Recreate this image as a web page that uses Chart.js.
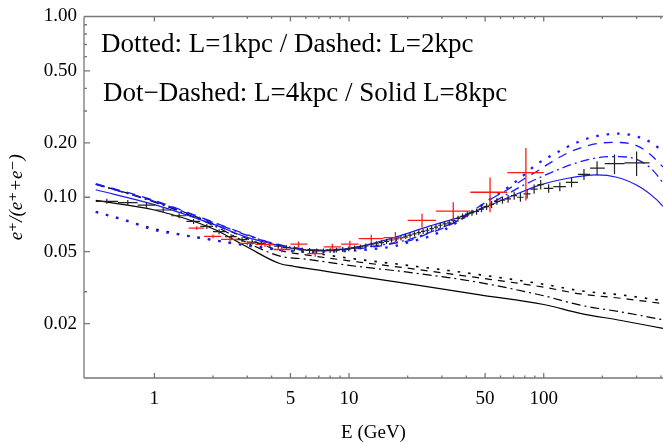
<!DOCTYPE html>
<html><head><meta charset="utf-8">
<script src="https://cdn.jsdelivr.net/npm/chart.js@4/dist/chart.umd.min.js"></script>
<style>html,body{margin:0;padding:0;background:#fff;}#wrap{width:663px;height:443px;position:relative;}</style>
</head><body><div id="wrap"><canvas id="c" width="663" height="443"></canvas></div>
<script>
// ---------- tick labels ----------
const xTickLabels = [1, 5, 10, 50, 100];
const xMinorTicks = [2, 3, 4, 6, 7, 8, 9, 20, 30, 40, 60, 70, 80, 90, 200, 300, 400];
const yTickLabels = [1.0, 0.5, 0.2, 0.1, 0.05, 0.02];
const yMinorTicks = [0.9, 0.8, 0.7, 0.6, 0.4, 0.3, 0.03];
const annotationLines = ["Dotted: L=1kpc / Dashed: L=2kpc", "Dot\u2212Dashed: L=4kpc / Solid L=8kpc"];

// ---------- model curves (E in GeV, positron fraction) ----------
const blueDottedE = [0.5, 0.7, 1, 1.5, 2, 3, 5, 7, 10, 14, 17, 21, 25, 30, 36, 43, 52, 60, 76, 92, 117, 148, 187, 246, 312, 366, 410];
const blueDottedF = [0.083, 0.075, 0.066, 0.061, 0.058, 0.054, 0.0505, 0.0500, 0.0505, 0.052, 0.0535, 0.057, 0.060, 0.065, 0.073, 0.083, 0.096, 0.106, 0.128, 0.152, 0.177, 0.201, 0.218, 0.225, 0.214, 0.197, 0.178];

const blueDashedE = [0.5, 1, 2, 3, 4, 5, 7, 10, 14, 17, 21, 25, 30, 36, 43, 53, 65, 78, 95, 110, 136, 187, 237, 300, 352, 410];
const blueDashedF = [0.119, 0.096, 0.073, 0.062, 0.056, 0.053, 0.051, 0.0515, 0.0535, 0.0555, 0.058, 0.0625, 0.067, 0.074, 0.084, 0.097, 0.110, 0.125, 0.142, 0.157, 0.178, 0.198, 0.201, 0.193, 0.173, 0.147];

const blueDotDashE = [0.5, 1, 2, 3, 4, 5, 7, 10, 14, 17, 21, 25, 30, 36, 43, 53, 65, 78, 96, 120, 142, 194, 246, 312, 366, 410];
const blueDotDashF = [0.118, 0.095, 0.0725, 0.0615, 0.0558, 0.053, 0.051, 0.052, 0.054, 0.056, 0.059, 0.063, 0.068, 0.074, 0.082, 0.092, 0.104, 0.116, 0.129, 0.143, 0.153, 0.166, 0.168, 0.159, 0.140, 0.120];

const blueSolidE = [0.5, 1, 2, 3, 4, 5, 6.3, 8, 11.4, 17, 25, 37, 43.5, 65, 96, 131, 187, 237, 312, 380, 410];
const blueSolidF = [0.110, 0.091, 0.071, 0.060, 0.0553, 0.0525, 0.0509, 0.0508, 0.0535, 0.0598, 0.0684, 0.0776, 0.0827, 0.099, 0.117, 0.127, 0.133, 0.129, 0.114, 0.097, 0.089];

const blackDottedE = [0.5, 1, 2, 3, 4.5, 6, 10, 20, 45, 100, 154, 250, 410];
const blackDottedF = [0.083, 0.067, 0.058, 0.0545, 0.051, 0.0497, 0.046, 0.042, 0.0375, 0.0330, 0.0304, 0.0288, 0.0268];

const blackDashedE = [0.5, 1, 2, 3, 4.5, 6, 10, 20, 45, 100, 154, 250, 410];
const blackDashedF = [0.118, 0.095, 0.0715, 0.059, 0.0505, 0.048, 0.0445, 0.0405, 0.036, 0.0318, 0.0292, 0.0276, 0.0258];

const blackDotDashE = [0.5, 1, 2, 3, 4.5, 6, 10, 20, 45, 100, 154, 250, 410];
const blackDotDashF = [0.118, 0.094, 0.070, 0.056, 0.047, 0.0455, 0.042, 0.0385, 0.034, 0.0285, 0.0253, 0.0232, 0.0210];

const blackSolidE = [0.5, 1, 2, 3, 4.4, 5.2, 7, 10, 20, 47, 100, 154, 250, 410];
const blackSolidF = [0.096, 0.085, 0.067, 0.053, 0.043, 0.0415, 0.0395, 0.0372, 0.0333, 0.0288, 0.0255, 0.0228, 0.0208, 0.0188];

// ---------- black data (AMS-02 like) ----------
const amsE  = [0.57,0.73,0.91,1.11,1.34,1.59,1.86,2.15,2.48,2.82,3.18,3.54,3.92,4.33,4.77,5.24,5.74,6.27,6.82,7.39,8.0,8.62,9.28,9.97,10.68,11.42,12.19,13.0,13.83,14.69,15.59,16.52,17.49,18.48,19.51,20.58,21.69,22.83,24.02,25.26,26.57,27.96,29.44,31.0,32.7,34.4,36.3,38.3,40.5,42.8,45.2,47.9,50.9,54.0,57.5,61.4,65.6,70.5,75.9,82.2,89.3,96.5,106,121,139,161,188,231,300];
const amsLo = [0.50,0.65,0.82,1.01,1.22,1.46,1.72,2.00,2.31,2.65,3.00,3.36,3.73,4.12,4.54,5.00,5.49,6.00,6.54,7.10,7.69,8.30,8.95,9.62,10.32,11.04,11.80,12.59,13.41,14.25,15.13,16.05,17.00,17.98,18.99,20.04,21.13,22.25,23.42,24.62,25.90,27.25,28.68,30.21,31.82,33.52,35.36,37.29,39.37,41.57,43.96,46.55,49.36,52.37,55.68,59.35,63.38,67.93,73.00,78.80,85.51,93.0,100,112,130,150,173,206,260];
const amsHi = [0.65,0.82,1.01,1.22,1.46,1.72,2.00,2.31,2.65,3.00,3.36,3.73,4.12,4.54,5.00,5.49,6.00,6.54,7.10,7.69,8.30,8.95,9.62,10.32,11.04,11.80,12.59,13.41,14.25,15.13,16.05,17.00,17.98,18.99,20.04,21.13,22.25,23.42,24.62,25.90,27.25,28.68,30.21,31.82,33.52,35.36,37.29,39.37,41.57,43.96,46.55,49.36,52.37,55.68,59.35,63.38,67.93,73.00,78.80,85.51,93.0,100,112,130,150,173,206,260,350];
const amsF  = [0.0950,0.0935,0.0905,0.0850,0.0790,0.0735,0.0690,0.0645,0.0605,0.0583,0.0565,0.0556,0.0547,0.0536,0.0527,0.0519,0.0512,0.0508,0.0505,0.0505,0.0507,0.0510,0.0514,0.0519,0.0524,0.0531,0.0538,0.0546,0.0553,0.0561,0.0570,0.0580,0.0589,0.0598,0.0609,0.0617,0.0627,0.0637,0.0647,0.0657,0.0671,0.0684,0.0700,0.0712,0.0722,0.0742,0.0763,0.0783,0.0806,0.0822,0.0834,0.0860,0.0888,0.0912,0.0950,0.0965,0.0980,0.1020,0.1000,0.1044,0.1110,0.1175,0.1120,0.1145,0.1210,0.1340,0.1450,0.1535,0.1550];
const amsErr = [0.0030,0.0030,0.0029,0.0027,0.0025,0.0023,0.0022,0.0020,0.0019,0.0018,0.0018,0.0017,0.0017,0.0017,0.0016,0.0016,0.0016,0.0016,0.0016,0.0016,0.0016,0.0016,0.0016,0.0016,0.0017,0.0017,0.0017,0.0017,0.0018,0.0018,0.0018,0.0019,0.0019,0.0019,0.0020,0.0020,0.0020,0.0021,0.0021,0.0022,0.0022,0.0023,0.0024,0.0025,0.0026,0.0027,0.0028,0.0030,0.0031,0.0032,0.0033,0.0035,0.0037,0.0040,0.0042,0.0045,0.0048,0.0052,0.0056,0.0060,0.0065,0.0070,0.0060,0.0065,0.0075,0.0095,0.0130,0.0190,0.0240];

// ---------- red data (PAMELA like) ----------
const pamE  = [1.65,2.0,2.45,3.0,3.7,4.5,5.5,6.7,8.2,10.1,13.0,17.3,23.7,34.3,53.0,81.0];
const pamLo = [1.5,1.8,2.2,2.7,3.3,4.1,5.0,6.1,7.4,9.1,11.2,15.0,20.0,28.0,42.0,65.0];
const pamHi = [1.8,2.2,2.7,3.3,4.1,5.0,6.1,7.4,9.1,11.2,15.0,20.0,28.0,42.0,65.0,100.0];
const pamF  = [0.0675,0.0608,0.0585,0.0556,0.0548,0.0514,0.0550,0.0488,0.0531,0.0550,0.0590,0.0598,0.0745,0.0837,0.1066,0.1370];
const pamErrLo = [0.0015,0.0015,0.0015,0.0016,0.0017,0.0018,0.0019,0.0020,0.0022,0.0025,0.0030,0.0045,0.0065,0.0095,0.0240,0.0410];
const pamErrHi = [0.0015,0.0015,0.0015,0.0016,0.0017,0.0018,0.0019,0.0020,0.0022,0.0025,0.0030,0.0045,0.0065,0.0100,0.0220,0.0500];

// ---------- build datasets ----------
const BLUE = '#1a1aff';
const BLACK = '#000000';
function curve(E, F, color, dash, width) {
  return {
    data: E.map((e, i) => ({x: e, y: F[i]})),
    borderColor: color, borderWidth: width, borderDash: dash,
    cubicInterpolationMode: 'monotone', pointRadius: 0, fill: false, spanGaps: false
  };
}
function crosses(E, lo, hi, F, eLo, eHi, color, width) {
  const pts = [];
  for (let i = 0; i < E.length; i++) {
    pts.push({x: lo[i], y: F[i]}, {x: hi[i], y: F[i]}, {x: hi[i], y: null});
    pts.push({x: E[i], y: F[i] - eLo[i]}, {x: E[i], y: F[i] + eHi[i]}, {x: E[i], y: null});
  }
  return {data: pts, borderColor: color, borderWidth: width, pointRadius: 0, tension: 0, spanGaps: false, fill: false};
}

const datasets = [
  crosses(pamE, pamLo, pamHi, pamF, pamErrLo, pamErrHi, '#ff1a1a', 1.3),
  crosses(amsE, amsLo, amsHi, amsF, amsErr, amsErr, '#222222', 1.2),
  curve(blueSolidE, blueSolidF, BLUE, [], 1.2),
  curve(blueDotDashE, blueDotDashF, BLUE, [9, 4, 2, 4], 1.3),
  curve(blueDashedE, blueDashedF, BLUE, [9, 7], 1.3),
  curve(blueDottedE, blueDottedF, BLUE, [2.5, 8], 2.3),
  curve(blackSolidE, blackSolidF, BLACK, [], 1.2),
  curve(blackDotDashE, blackDotDashF, BLACK, [9, 4, 2, 4], 1.2),
  curve(blackDashedE, blackDashedF, BLACK, [7, 6], 1.2),
  curve(blackDottedE, blackDottedF, BLACK, [2.5, 8], 1.6)
];

const AXIS_FONT = {family: '"Liberation Serif", "DejaVu Serif", serif', size: 19, lineHeight: 1};

const framePlugin = {
  id: 'frame',
  afterDraw(chart) {
    const {ctx, chartArea: a, scales: {x, y}} = chart;
    ctx.save();
    ctx.strokeStyle = '#777777';
    ctx.lineWidth = 1.3;
    ctx.beginPath();
    ctx.moveTo(a.left, a.top); ctx.lineTo(a.right + 2, a.top);
    ctx.moveTo(a.left, a.top); ctx.lineTo(a.left, a.bottom);
    ctx.moveTo(a.left, a.bottom); ctx.lineTo(a.right + 2, a.bottom);
    const xt = (v, len) => { const p = x.getPixelForValue(v); ctx.moveTo(p, a.bottom); ctx.lineTo(p, a.bottom - len); ctx.moveTo(p, a.top); ctx.lineTo(p, a.top + len); };
    const yt = (v, len) => { const p = y.getPixelForValue(v); ctx.moveTo(a.left, p); ctx.lineTo(a.left + len, p); };
    xTickLabels.forEach(v => xt(v, 5));
    xMinorTicks.forEach(v => xt(v, 2.5));
    yTickLabels.forEach(v => yt(v, 6));
    yMinorTicks.forEach(v => yt(v, 3));
    ctx.stroke();
    ctx.restore();
  }
};
const textPlugin = {
  id: 'annot',
  afterDraw(chart) {
    const ctx = chart.ctx;
    ctx.save();
    ctx.fillStyle = '#000';
    ctx.font = '27px "Liberation Serif", "DejaVu Serif", serif';
    ctx.textBaseline = 'alphabetic';
    ctx.fillText(annotationLines[0], 101, 52);
    ctx.fillText(annotationLines[1], 103, 101);
    ctx.restore();
  }
};

new Chart(document.getElementById('c').getContext('2d'), {
  type: 'line',
  data: {datasets},
  options: {
    responsive: false,
    animation: false,
    events: [],
    layout: {padding: {top: 15, right: 0, left: 0, bottom: 0}},
    plugins: {legend: {display: false}, tooltip: {enabled: false}},
    elements: {point: {radius: 0}},
    scales: {
      x: {
        type: 'logarithmic', min: 0.435, max: 410,
        afterFit: s => { s.height = 65; },
        afterBuildTicks: s => { s.ticks = xTickLabels.map(v => ({value: v})); },
        ticks: {callback: v => String(v), font: AXIS_FONT, color: '#000', padding: 12, maxRotation: 0, autoSkip: false},
        grid: {display: false, drawTicks: false},
        border: {display: false},
        title: {display: true, text: 'E (GeV)', font: AXIS_FONT, color: '#000', padding: {top: 0, bottom: 0.5}}
      },
      y: {
        type: 'logarithmic', min: 0.01, max: 1.0,
        afterFit: s => { s.width = 84; },
        afterBuildTicks: s => { s.ticks = yTickLabels.map(v => ({value: v})); },
        ticks: {callback: v => Number(v).toFixed(2), font: AXIS_FONT, color: '#000', padding: 7, autoSkip: false},
        grid: {display: false, drawTicks: false},
        border: {display: false},
        title: {display: true, text: 'e\u207A/(e\u207A+e\u207B)', font: {family: '"Liberation Serif", "DejaVu Serif", serif', size: 19, style: 'italic', lineHeight: 1}, color: '#000', padding: {top: 7.5, bottom: 0}}
      }
    }
  },
  plugins: [framePlugin, textPlugin]
});
</script>
</body></html>
